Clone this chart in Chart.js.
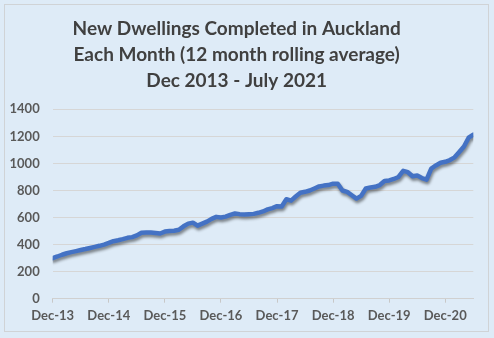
<!DOCTYPE html>
<html>
<head>
<meta charset="utf-8">
<script src="https://cdn.jsdelivr.net/npm/chart.js@4/dist/chart.umd.min.js"></script>
<style>
  html, body { margin: 0; padding: 0; background: #deebf7; }
  #wrap { position: relative; width: 494px; height: 338px; }
</style>
</head>
<body>
<div id="wrap"><canvas id="c" width="494" height="338"></canvas></div>
<script>
const titleLines = ['New Dwellings Completed in Auckland', 'Each Month (12 month rolling average)', 'Dec 2013 - July 2021'];
const tickLabels = ['Dec-13', 'Dec-14', 'Dec-15', 'Dec-16', 'Dec-17', 'Dec-18', 'Dec-19', 'Dec-20'];
const yTicks = [0, 200, 400, 600, 800, 1000, 1200, 1400];
// monthly values, Dec 2013 onward
const dwellings = [
  300, 312, 325, 336, 344, 352, 360, 367, 375, 383, 391, 400,
  412, 425, 432, 440, 450, 455, 468, 488, 490, 490, 486, 482,
  496, 500, 502, 510, 535, 555, 562, 540, 555, 570, 590, 605,
  600, 607, 620, 630, 625, 622, 625, 627, 635, 645, 660, 670,
  684, 682, 735, 725, 755, 783, 790, 800, 815, 830, 836, 840,
  850, 850, 800, 790, 765, 740, 760, 815, 822, 827, 840, 870,
  874, 885, 900, 945, 935, 905, 910, 892, 880, 962, 985, 1005,
  1012, 1025, 1045, 1085, 1125, 1190, 1212
];

const shadowPlugin = {
  id: 'lineShadow',
  beforeDatasetDraw(chart) {
    const ctx = chart.ctx;
    ctx.save();
    ctx.shadowColor = 'rgba(0,0,0,0.45)';
    ctx.shadowBlur = 3;
    ctx.shadowOffsetX = 1;
    ctx.shadowOffsetY = 2.5;
  },
  afterDatasetDraw(chart) {
    chart.ctx.restore();
  }
};

const framePlugin = {
  id: 'frame',
  beforeDraw(chart) {
    const ctx = chart.ctx;
    ctx.save();
    ctx.strokeStyle = '#d0d3d6';
    ctx.lineWidth = 1;
    ctx.strokeRect(4.5, 4.5, 484, 327);
    ctx.restore();
  }
};

new Chart(document.getElementById('c'), {
  type: 'line',
  data: {
    datasets: [{
      data: dwellings.map((v, i) => ({ x: i, y: v })),
      borderColor: '#4472c4',
      borderWidth: 4.5,
      pointRadius: 0,
      tension: 0,
      borderJoinStyle: 'round',
      borderCapStyle: 'round',
      fill: false
    }]
  },
  plugins: [framePlugin, shadowPlugin],
  options: {
    responsive: false,
    animation: false,
    events: [],
    layout: { padding: { left: 0, right: 20.7, top: 4, bottom: 0 } },
    plugins: {
      legend: { display: false },
      tooltip: { enabled: false },
      title: {
        display: true,
        text: titleLines,
        color: '#404040',
        font: { family: 'Lato', weight: 'bold', size: 19, lineHeight: 26 / 19 },
        padding: { top: 12, bottom: 15.3 }
      }
    },
    scales: {
      x: {
        type: 'linear',
        min: 0,
        max: dwellings.length - 1,
        afterBuildTicks: (s) => { s.ticks = tickLabels.map((l, i) => ({ value: i * 12 })); },
        afterFit: (s) => { s.height = 39.3; },
        ticks: {
          callback: (v) => tickLabels[Math.round(v / 12)],
          color: '#595959',
          font: { family: 'Lato', weight: 'bold', size: 13 },
          padding: 5,
          maxRotation: 0,
          autoSkip: false
        },
        grid: { drawOnChartArea: false, drawTicks: true, tickLength: 4, color: '#c8c8c8' },
        border: { display: true, color: '#d0d0d0', width: 1 }
      },
      y: {
        min: 0,
        max: 1400,
        afterBuildTicks: (s) => { s.ticks = yTicks.map(v => ({ value: v })); },
        afterFit: (s) => { s.width = 52.7; },
        ticks: {
          callback: (v) => String(v),
          color: '#595959',
          font: { family: 'Lato', weight: 'bold', size: 13 },
          padding: 13
        },
        grid: { color: '#d6d6d6', drawTicks: false, lineWidth: 1 },
        border: { display: false }
      }
    }
  }
});
</script>
</body>
</html>
